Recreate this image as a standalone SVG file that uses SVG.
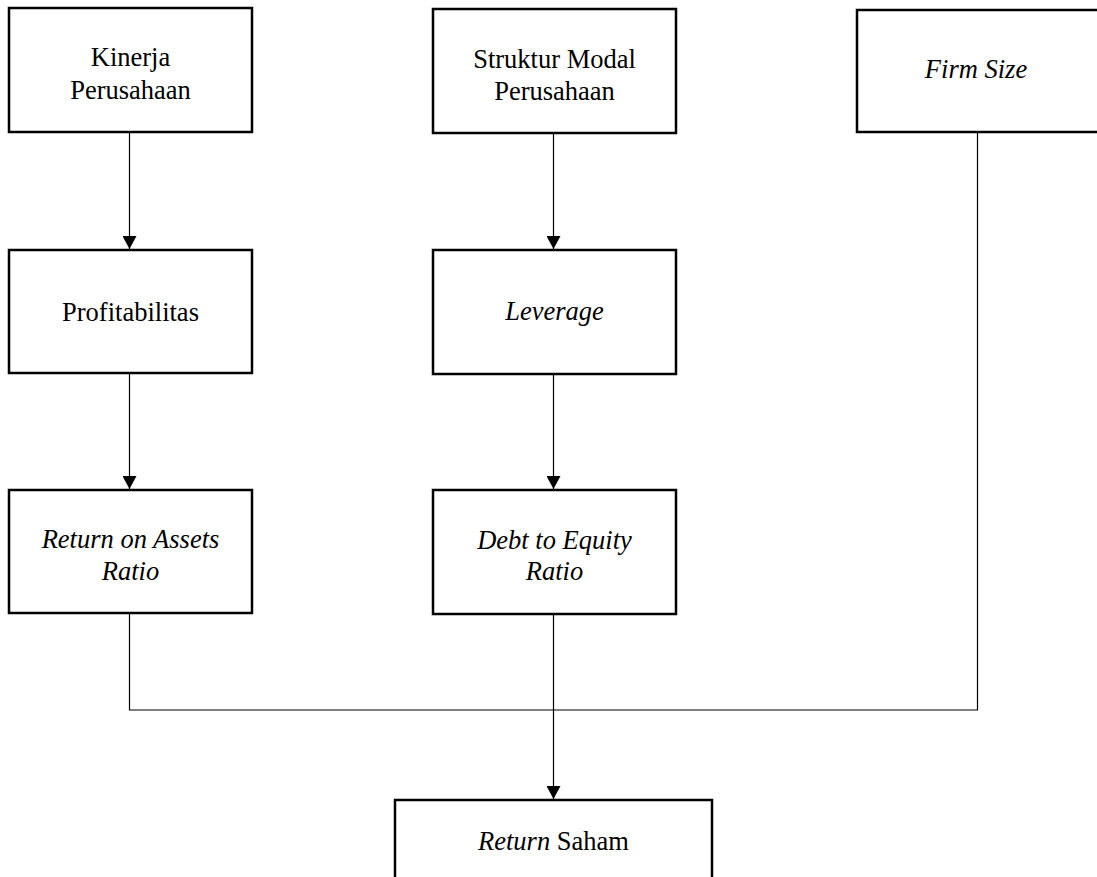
<svg xmlns="http://www.w3.org/2000/svg" width="1097" height="877" viewBox="0 0 1097 877">
<style>
.box{fill:#fff;stroke:#000;stroke-width:2.5}
.t{font-family:"Liberation Serif","Times New Roman",serif;font-size:26.5px;fill:#000;text-anchor:middle}
.i{font-style:italic}
.c{fill:none;stroke:#000;stroke-width:1.2}
</style>
<defs>
<marker id="ah" viewBox="0 0 13 14" refX="13" refY="7" markerWidth="13" markerHeight="14" markerUnits="userSpaceOnUse" orient="auto">
<path d="M0,0 L13,7 L0,14 Z" fill="#000"/>
</marker>
</defs>
<rect width="1097" height="877" fill="#fff"/>
<g id="connectors">
<line class="c" x1="129.5" y1="133" x2="129.5" y2="249" marker-end="url(#ah)"/>
<line class="c" x1="129.5" y1="374" x2="129.5" y2="489" marker-end="url(#ah)"/>
<line class="c" x1="553.5" y1="134" x2="553.5" y2="249" marker-end="url(#ah)"/>
<line class="c" x1="553.5" y1="374" x2="553.5" y2="489" marker-end="url(#ah)"/>
<polyline class="c" points="129.5,614 129.5,710 977.5,710 977.5,133"/>
<line class="c" x1="553.5" y1="614" x2="553.5" y2="799" marker-end="url(#ah)"/>
</g>
<g id="kinerja">
<rect class="box" x="9" y="8" width="243" height="124"/>
<text class="t" x="130.5" y="66">Kinerja</text>
<text class="t" x="130.5" y="99">Perusahaan</text>
</g>
<g id="struktur">
<rect class="box" x="433" y="9" width="243" height="124"/>
<text class="t" x="554.5" y="68">Struktur Modal</text>
<text class="t" x="554.5" y="100">Perusahaan</text>
</g>
<g id="firmsize">
<rect class="box" x="857" y="10" width="243" height="122"/>
<text class="t i" x="976" y="78">Firm Size</text>
</g>
<g id="profitabilitas">
<rect class="box" x="9" y="250" width="243" height="123"/>
<text class="t" x="130.5" y="321">Profitabilitas</text>
</g>
<g id="leverage">
<rect class="box" x="433" y="250" width="243" height="124"/>
<text class="t i" x="554.5" y="320">Leverage</text>
</g>
<g id="roa">
<rect class="box" x="9" y="490" width="243" height="123"/>
<text class="t i" x="130.5" y="548">Return on Assets</text>
<text class="t i" x="130.5" y="580">Ratio</text>
</g>
<g id="der">
<rect class="box" x="433" y="490" width="243" height="124"/>
<text class="t i" x="554.5" y="549">Debt to Equity</text>
<text class="t i" x="554.5" y="580">Ratio</text>
</g>
<g id="returnsaham">
<rect class="box" x="395" y="800" width="317" height="90"/>
<text class="t" x="553.5" y="850"><tspan class="i">Return</tspan> Saham</text>
</g>
</svg>
